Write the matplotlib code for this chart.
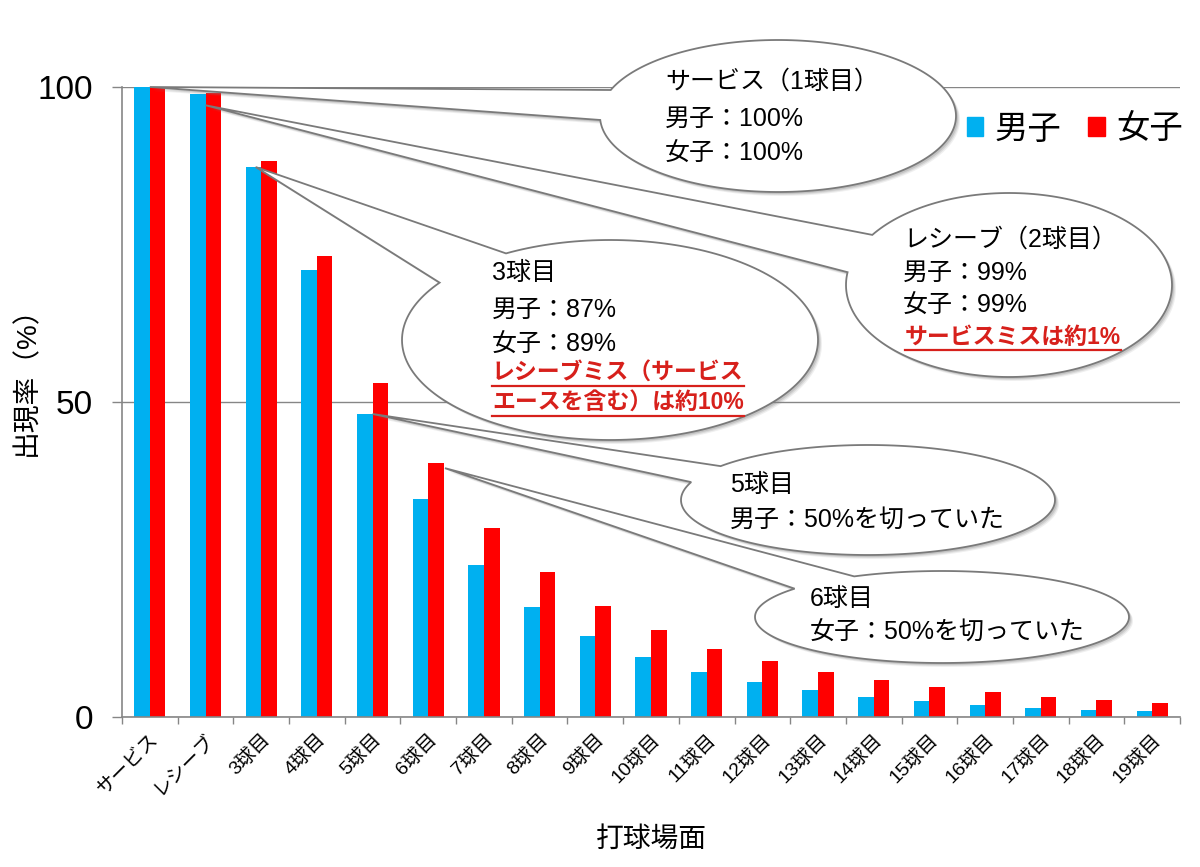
import matplotlib
matplotlib.use("Agg")
import matplotlib.pyplot as plt
import numpy as np
from matplotlib.patches import Polygon, Patch

plt.rcParams['font.family'] = ['Liberation Sans', 'Noto Sans CJK JP']

# data (%)
categories = ['サービス', 'レシーブ'] + [f'{i}球目' for i in range(3, 20)]
male = [100, 98.9, 87.3, 71.0, 48.1, 34.6, 24.1, 17.5, 12.9, 9.5,
        7.1, 5.6, 4.3, 3.2, 2.5, 1.9, 1.4, 1.1, 0.9]
female = [100, 99.0, 88.3, 73.2, 53.0, 40.3, 30.0, 23.0, 17.6, 13.8,
          10.8, 8.9, 7.1, 5.9, 4.8, 4.0, 3.2, 2.7, 2.2]
series_names = ['男子', '女子']
blue = '#00b0f0'
red = '#ff0000'
grey = '#868686'

W, H = 1200, 867
fig = plt.figure(figsize=(W / 100, H / 100), dpi=100)
ax = fig.add_axes([122 / W, (H - 717) / H, 1058 / W, 630 / H])

x = np.arange(len(categories))
bw = 0.28
ax.bar(x - bw / 2, male, bw, color=blue, zorder=2)
ax.bar(x + bw / 2, female, bw, color=red, zorder=2)

ax.set_xlim(-0.5, len(categories) - 0.5)
ax.set_ylim(0, 100)
ax.set_yticks([0, 50, 100])
ax.yaxis.grid(True, color=grey, lw=1)
ax.set_axisbelow(True)
for s in ['top', 'right']:
    ax.spines[s].set_visible(False)
for s in ['left', 'bottom']:
    ax.spines[s].set_color(grey)
    ax.spines[s].set_linewidth(1.2)
ax.tick_params(axis='y', length=7, width=1, color=grey, pad=14, labelsize=24)
ax.set_xticks(x)
ax.set_xticklabels(categories, rotation=45, ha='right', rotation_mode='anchor', fontsize=14)
ax.tick_params(axis='x', which='major', length=0, pad=10)
ax.set_xticks(np.arange(-0.5, len(categories), 1), minor=True)
ax.tick_params(axis='x', which='minor', length=5, width=1, color=grey)

ax.set_ylabel('出現率（%）', fontsize=20)
ax.yaxis.set_label_coords(-0.077, 0.544)
ax.set_xlabel('打球場面', fontsize=20)
ax.xaxis.set_label_coords(0.5, -0.175)

fig.legend(handles=[Patch(color=blue, label=series_names[0]),
                    Patch(color=red, label=series_names[1])],
           loc='center', bbox_to_anchor=(1075 / W, 1 - 130 / H), ncol=2,
           frameon=False, fontsize=24, handlelength=0.5, handleheight=0.5,
           handletextpad=0.35, columnspacing=0.8)

# overlay in pixel coordinates (y downwards) for the callouts
ov = fig.add_axes([0, 0, 1, 1], zorder=5)
ov.set_xlim(0, W)
ov.set_ylim(H, 0)
ov.axis('off')


def to_px(xd, yd):
    disp = ax.transData.transform((xd, yd))
    return ov.transData.inverted().transform(disp)


def callout(cx, cy, a, b, t1, t2, tip):
    ts = np.deg2rad(np.linspace(t1, t2 + 360, 200))
    pts = np.column_stack([cx + a * np.cos(ts), cy + b * np.sin(ts)])
    pts = np.vstack([tip, pts, tip])
    for off, al in [(4, 0.12), (3, 0.18), (2, 0.25)]:
        ov.add_patch(Polygon(pts + [off, off], closed=True, fc='#808080',
                             ec='none', alpha=al))
    ov.add_patch(Polygon(pts, closed=True, fc='white', ec='#7a7a7a', lw=1.3))


callout(778, 116, 178, 76, 200, 177, to_px(0, male[0]))
callout(1009, 285, 163, 92, 213, 188, to_px(1, male[1] - 1.8))
callout(610, 340, 208, 100, 240, 215, to_px(1.9, male[2]))
callout(868, 500, 187, 55, 218, 199, to_px(4, male[4]))
callout(942, 617, 187, 46, 242, 218, to_px(5.3, female[5] - 0.8))

txt = dict(fontsize=18, va='center', ha='left', color='black')
ov.text(665, 82, 'サービス（1球目）', **txt)
ov.text(665, 119, f'男子：{male[0]:.0f}%', **txt)
ov.text(665, 154, f'女子：{female[0]:.0f}%', **txt)

ov.text(903, 240, 'レシーブ（2球目）', **txt)
ov.text(903, 273, f'男子：{male[1]:.0f}%', **txt)
ov.text(903, 306, f'女子：{female[1]:.0f}%', **txt)

ov.text(492, 273, '3球目', **txt)
ov.text(492, 310, '男子：87%', **txt)
ov.text(492, 345, '女子：89%', **txt)

ov.text(730, 485, '5球目', **txt)
ov.text(730, 520, '男子：50%を切っていた', **txt)

ov.text(810, 599, '6球目', **txt)
ov.text(810, 633, '女子：50%を切っていた', **txt)

rtxt = dict(fontsize=16.5, va='center', ha='left', color='#d7201b', fontweight='bold')
red_texts = [ov.text(905, 337, 'サービスミスは約1%', **rtxt),
             ov.text(492, 373, 'レシーブミス（サービス', **rtxt),
             ov.text(492, 403, 'エースを含む）は約10%', **rtxt)]

fig.canvas.draw()
rend = fig.canvas.get_renderer()
inv = ov.transData.inverted()
for t in red_texts:
    bb = t.get_window_extent(rend)
    (x0, y0), (x1, y1) = inv.transform([[bb.x0, bb.y0], [bb.x1, bb.y1]])
    ov.plot([x0, x1], [y0 + 1, y0 + 1], color='#d7201b', lw=1.6)

fig.savefig('out.png', dpi=100)
